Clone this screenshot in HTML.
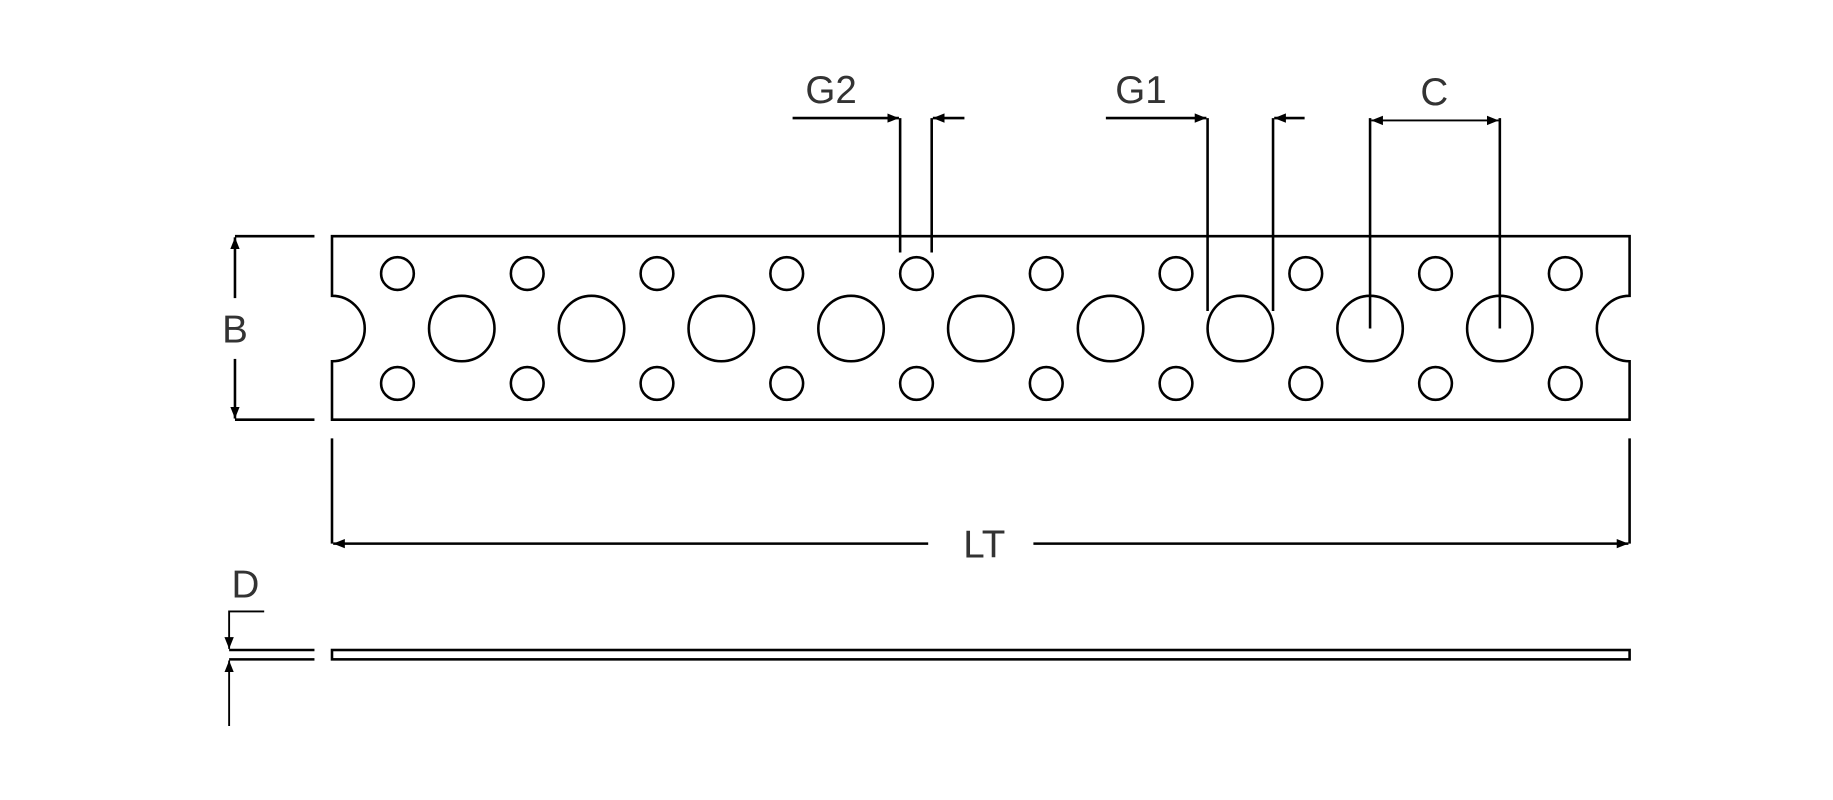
<!DOCTYPE html>
<html><head><meta charset="utf-8"><style>
html,body{margin:0;padding:0;background:#fff;}
svg{display:block;}
text{font-family:"Liberation Sans","DejaVu Sans",sans-serif;fill:#333;font-size:33px;}
</style></head><body>
<svg width="1833" height="800" viewBox="0 0 1568 684.3" preserveAspectRatio="none" xmlns="http://www.w3.org/2000/svg">
<defs>
<marker id="a" viewBox="0 0 10 10" refX="10" refY="5" markerWidth="10" markerHeight="10" markerUnits="userSpaceOnUse" orient="auto-start-reverse"><path d="M0,1 L10,5 L0,9 Z" fill="#000"/></marker>
</defs>
<g fill="none" stroke="#000" stroke-width="2.2">
<path d="M284,202 H1394 V253 A28,28 0 0 0 1394,309 V359 H284 V309 A28,28 0 0 0 284,253 Z"/>
<g>
<circle cx="395" cy="281" r="28"/><circle cx="506" cy="281" r="28"/><circle cx="617" cy="281" r="28"/>
<circle cx="728" cy="281" r="28"/><circle cx="839" cy="281" r="28"/><circle cx="950" cy="281" r="28"/>
<circle cx="1061" cy="281" r="28"/><circle cx="1172" cy="281" r="28"/><circle cx="1283" cy="281" r="28"/>
</g>
<g>
<circle cx="340" cy="234" r="14"/><circle cx="451" cy="234" r="14"/><circle cx="562" cy="234" r="14"/><circle cx="673" cy="234" r="14"/><circle cx="784" cy="234" r="14"/><circle cx="895" cy="234" r="14"/><circle cx="1006" cy="234" r="14"/><circle cx="1117" cy="234" r="14"/><circle cx="1228" cy="234" r="14"/><circle cx="1339" cy="234" r="14"/>
<circle cx="340" cy="328" r="14"/><circle cx="451" cy="328" r="14"/><circle cx="562" cy="328" r="14"/><circle cx="673" cy="328" r="14"/><circle cx="784" cy="328" r="14"/><circle cx="895" cy="328" r="14"/><circle cx="1006" cy="328" r="14"/><circle cx="1117" cy="328" r="14"/><circle cx="1228" cy="328" r="14"/><circle cx="1339" cy="328" r="14"/>
</g>
<line x1="201" y1="202" x2="269" y2="202"/><line x1="201" y1="359" x2="269" y2="359"/>
<line x1="201" y1="255" x2="201" y2="203" marker-end="url(#a)"/>
<line x1="201" y1="307" x2="201" y2="358" marker-end="url(#a)"/>
<line x1="678" y1="101" x2="769" y2="101" marker-end="url(#a)"/>
<line x1="770" y1="101" x2="770" y2="216"/>
<line x1="797" y1="101" x2="797" y2="216"/>
<line x1="825" y1="101" x2="798" y2="101" marker-end="url(#a)"/>
<line x1="946" y1="101" x2="1032" y2="101" marker-end="url(#a)"/>
<line x1="1033" y1="101" x2="1033" y2="266"/>
<line x1="1089" y1="101" x2="1089" y2="266"/>
<line x1="1116" y1="101" x2="1090" y2="101" marker-end="url(#a)"/>
<line x1="1172" y1="101" x2="1172" y2="281"/>
<line x1="1283" y1="101" x2="1283" y2="281"/>
<line x1="1173" y1="103" x2="1282" y2="103" marker-start="url(#a)" marker-end="url(#a)" stroke-width="1.6"/>
<line x1="284" y1="375" x2="284" y2="465"/>
<line x1="1394" y1="375" x2="1394" y2="465"/>
<line x1="794" y1="465" x2="285" y2="465" marker-end="url(#a)"/>
<line x1="884" y1="465" x2="1393" y2="465" marker-end="url(#a)"/>
<rect x="284" y="556" width="1110" height="8"/>
<line x1="196" y1="556" x2="269" y2="556"/><line x1="196" y1="564" x2="269" y2="564"/>
<path d="M226,523 H196 V555" marker-end="url(#a)" stroke-width="1.6"/>
<line x1="196" y1="621" x2="196" y2="565" marker-end="url(#a)" stroke-width="1.6"/>
</g>
<text x="201" y="293" text-anchor="middle">B</text>
<text x="711" y="88" text-anchor="middle">G2</text>
<text x="976" y="88" text-anchor="middle">G1</text>
<text x="1227" y="90" text-anchor="middle">C</text>
<text x="842" y="477" text-anchor="middle">LT</text>
<text x="210" y="511" text-anchor="middle">D</text>
</svg>
</body></html>
